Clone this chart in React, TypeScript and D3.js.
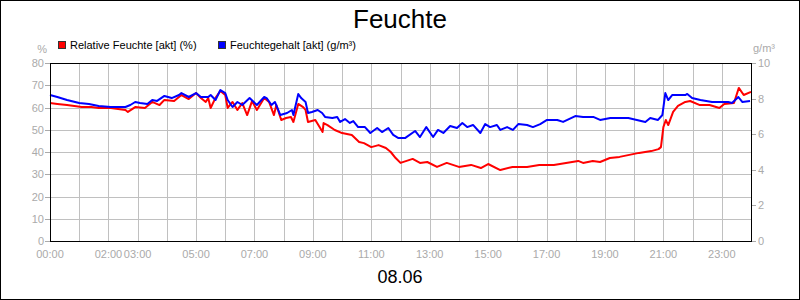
import React from "react";
import * as d3 from "d3";

// time in minutes since 00:00
const rhTimes = [0, 15, 35, 65, 85, 100, 125, 155, 160, 175, 195, 210, 225, 235, 255, 270, 285, 300, 310, 320, 325, 330, 340, 350, 360, 365, 375, 385, 395, 405, 415, 425, 440, 450, 460, 465, 475, 485, 495, 500, 510, 520, 525, 530, 545, 560, 562, 570, 585, 600, 620, 635, 645, 660, 675, 690, 700, 710, 720, 745, 760, 775, 795, 815, 840, 865, 885, 900, 925, 950, 980, 1005, 1035, 1060, 1085, 1095, 1115, 1130, 1150, 1170, 1190, 1210, 1235, 1250, 1255, 1260, 1265, 1270, 1280, 1290, 1305, 1315, 1335, 1355, 1375, 1385, 1405, 1415, 1425, 1440];
const rhValues = [62.0, 61.6, 61.1, 60.2, 60.2, 59.8, 59.8, 58.9, 58.0, 60.2, 59.8, 62.5, 61.1, 63.4, 62.9, 65.6, 63.8, 66.5, 64.3, 62.5, 64.3, 59.8, 64.3, 67.4, 65.6, 59.8, 62.5, 58.9, 62.0, 56.6, 62.9, 58.9, 64.3, 62.5, 56.6, 61.1, 54.4, 55.3, 55.7, 53.5, 61.6, 60.2, 58.9, 53.5, 54.4, 49.0, 53.0, 52.1, 49.9, 48.5, 47.6, 44.5, 44.0, 42.2, 43.1, 41.8, 40.0, 37.3, 35.1, 36.9, 35.1, 35.5, 33.3, 35.1, 33.3, 34.2, 32.8, 34.6, 31.9, 33.3, 33.3, 34.2, 34.2, 35.1, 36.0, 35.1, 36.0, 35.5, 37.3, 37.8, 38.7, 39.6, 40.4, 41.3, 42.2, 51.2, 54.4, 52.1, 58.0, 60.7, 62.5, 62.9, 61.1, 61.1, 59.8, 61.6, 62.0, 68.8, 65.6, 67.0];

const ahTimes = [0, 15, 35, 60, 80, 100, 125, 155, 165, 175, 185, 200, 210, 220, 235, 250, 265, 270, 285, 300, 310, 325, 330, 340, 350, 360, 365, 375, 385, 395, 410, 425, 440, 445, 455, 462, 473, 487, 497, 500, 510, 516, 525, 530, 538, 550, 559, 565, 580, 590, 596, 606, 616, 623, 633, 647, 658, 672, 682, 695, 705, 715, 730, 750, 760, 773, 787, 797, 808, 822, 836, 847, 857, 869, 884, 894, 904, 918, 925, 939, 951, 962, 980, 992, 1007, 1021, 1042, 1054, 1079, 1095, 1116, 1130, 1151, 1188, 1223, 1233, 1249, 1258, 1264, 1270, 1278, 1305, 1309, 1319, 1336, 1360, 1393, 1401, 1414, 1422, 1438];
const ahValues = [8.20, 8.09, 7.92, 7.75, 7.70, 7.58, 7.53, 7.53, 7.64, 7.81, 7.75, 7.70, 7.92, 7.87, 8.15, 8.03, 8.20, 8.31, 8.09, 8.31, 8.09, 8.09, 8.20, 7.92, 8.48, 8.31, 7.92, 7.53, 7.81, 7.64, 8.03, 7.64, 8.09, 8.03, 7.64, 7.81, 7.08, 7.19, 7.36, 7.08, 8.26, 8.03, 7.81, 7.19, 7.25, 7.36, 7.19, 6.97, 6.91, 6.97, 6.69, 6.85, 6.63, 6.74, 6.40, 6.40, 6.07, 6.35, 6.12, 6.35, 5.96, 5.79, 5.79, 6.18, 5.84, 6.40, 5.84, 6.24, 6.07, 6.46, 6.35, 6.63, 6.40, 6.52, 6.07, 6.57, 6.40, 6.52, 6.24, 6.40, 6.24, 6.57, 6.52, 6.40, 6.57, 6.80, 6.80, 6.69, 7.02, 6.97, 6.97, 6.80, 6.91, 6.91, 6.69, 6.91, 6.80, 7.08, 8.31, 7.92, 8.20, 8.20, 8.26, 8.03, 7.92, 7.81, 7.81, 7.75, 8.09, 7.81, 7.87];

const leftTicks = [0, 10, 20, 30, 40, 50, 60, 70, 80];
const rightTicks = [0, 2, 4, 6, 8, 10];
const hourGrid = d3.range(0, 25);
const xLabelHours = [0, 2, 3, 5, 7, 9, 11, 13, 15, 17, 19, 21, 23];

const title = "Feuchte";
const dateLabel = "08.06";
const seriesNames = ["Relative Feuchte [akt] (%)", "Feuchtegehalt [akt] (g/m³)"];
const seriesColors = ["#ff0000", "#0000ff"];

export default function App() {
  const W = 800, H = 300;
  const x0 = 50, x1 = 751, yTop = 63, yBot = 241;
  const x = d3.scaleLinear().domain([0, 1440]).range([x0, x1]);
  const yL = d3.scaleLinear().domain([0, 80]).range([yBot, yTop]);
  const yR = d3.scaleLinear().domain([0, 10]).range([yBot, yTop]);
  const font = "'Liberation Sans', Arial, sans-serif";
  const gray = "#aaaaaa";

  const rhLine = d3.line<number>().x((_, i) => x(rhTimes[i])).y((d) => yL(d))(rhValues) || "";
  const ahLine = d3.line<number>().x((_, i) => x(ahTimes[i])).y((d) => yR(d))(ahValues) || "";
  const pad = (h: number) => (h < 10 ? "0" + h : "" + h) + ":00";

  return (
    <svg width={W} height={H} style={{ position: "absolute", left: 0, top: 0, background: "#fff" }} fontFamily={font}>
      <rect x={0.5} y={0.5} width={W - 1} height={H - 1} fill="#fff" stroke="#000" />
      <text x={400} y={28} textAnchor="middle" fontSize={26} fill="#000">{title}</text>
      {/* legend */}
      {seriesNames.map((n, i) => {
        const lx = i === 0 ? 58 : 218;
        return (
          <g key={n}>
            <rect x={lx + 0.5} y={41.5} width={7} height={7} fill={seriesColors[i]} stroke="#333" shapeRendering="crispEdges" />
            <text x={lx + 12} y={48.5} fontSize={11} fill="#000">{n}</text>
          </g>
        );
      })}
      <text x={47} y={53} textAnchor="end" fontSize={11} fill={gray}>%</text>
      <text x={753} y={52} fontSize={11} fill={gray}>g/m³</text>
      {/* grid */}
      <g stroke="#c0c0c0" shapeRendering="crispEdges">
        {leftTicks.map((t) => (
          <line key={"h" + t} x1={x0} x2={x1} y1={Math.round(yL(t)) + 0.5} y2={Math.round(yL(t)) + 0.5} />
        ))}
        {hourGrid.map((h) => (
          <line key={"v" + h} x1={Math.round(x(h * 60)) + 0.5} x2={Math.round(x(h * 60)) + 0.5} y1={yTop} y2={yBot} />
        ))}
      </g>
      {/* left axis ticks */}
      <g stroke={gray} shapeRendering="crispEdges">
        {leftTicks.map((t) => (
          <line key={"lt" + t} x1={45} x2={x0} y1={Math.round(yL(t)) + 0.5} y2={Math.round(yL(t)) + 0.5} />
        ))}
        {rightTicks.map((t) => (
          <line key={"rt" + t} x1={x1} x2={x1 + 5} y1={Math.round(yR(t)) + 0.5} y2={Math.round(yR(t)) + 0.5} />
        ))}
      </g>
      {leftTicks.map((t) => (
        <text key={"ll" + t} x={44} y={yL(t) + 4} textAnchor="end" fontSize={11} fill={gray}>{t}</text>
      ))}
      {rightTicks.map((t) => (
        <text key={"rl" + t} x={758} y={yR(t) + 4} fontSize={11} fill={gray}>{t}</text>
      ))}
      {xLabelHours.map((h) => (
        <text key={"xl" + h} x={x(h * 60)} y={258} textAnchor="middle" fontSize={11} fill={gray}>{pad(h)}</text>
      ))}
      {/* series */}
      <g fill="none" strokeWidth={2} strokeLinejoin="round">
        <path d={rhLine} stroke={seriesColors[0]} />
        <path d={ahLine} stroke={seriesColors[1]} />
      </g>
      {/* frame */}
      <rect x={x0 + 0.5} y={yTop + 0.5} width={x1 - x0} height={yBot - yTop} fill="none" stroke="#000" shapeRendering="crispEdges" />
      <text x={400} y={283} textAnchor="middle" fontSize={18} fill="#000">{dateLabel}</text>
    </svg>
  );
}
